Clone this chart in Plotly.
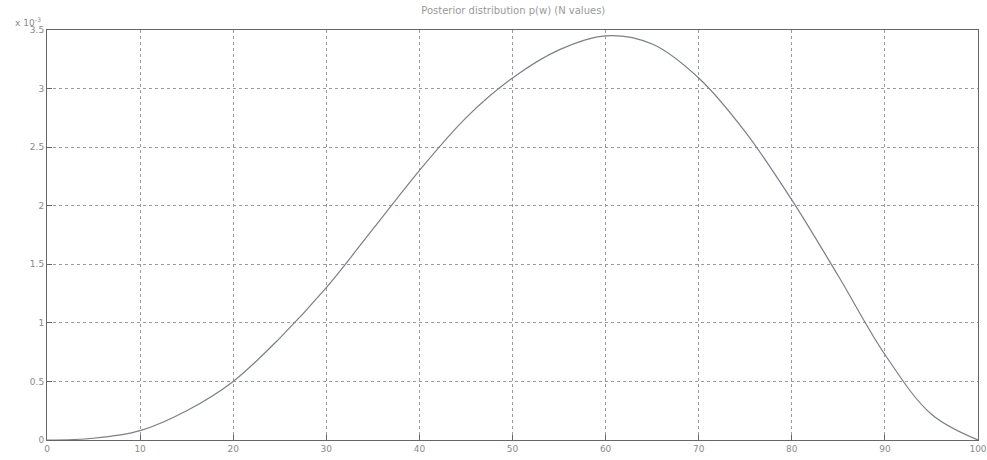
import plotly.graph_objects as go

# x values and pdf values (in units of 1e-3)
x_vals = [0, 5, 10, 15, 20, 25, 30, 35, 40, 45, 50, 55, 60, 65, 70, 75, 80, 85, 90, 95, 100]
y_vals = [0.0, 0.015, 0.08, 0.25, 0.50, 0.87, 1.30, 1.80, 2.30, 2.75, 3.09, 3.33, 3.45, 3.38, 3.09, 2.63, 2.05, 1.40, 0.73, 0.22, 0.0]

x_ticks = [0, 10, 20, 30, 40, 50, 60, 70, 80, 90, 100]
y_ticks = [0, 0.5, 1, 1.5, 2, 2.5, 3, 3.5]
y_tick_text = ["0", "0.5", "1", "1.5", "2", "2.5", "3", "3.5"]
title_text = "Posterior distribution p(w) (N values)"

fig = go.Figure()
fig.add_trace(go.Scatter(x=x_vals, y=y_vals, mode="lines",
                         line=dict(color="#7a7f8a", width=1.2, shape="spline", smoothing=1.0),
                         hoverinfo="skip"))

axis_common = dict(
    showgrid=True, gridcolor="#9a9a9a", griddash="dot", gridwidth=1,
    showline=True, linecolor="#666", linewidth=1, mirror=True,
    ticks="inside", ticklen=5, tickcolor="#666",
    tickfont=dict(family="DejaVu Sans", size=9, color="#8a8a8a"),
    zeroline=False, automargin=False,
)
fig.update_xaxes(range=[0, 100], tickvals=x_ticks, **axis_common)
fig.update_yaxes(range=[0, 3.5], tickvals=y_ticks, ticktext=y_tick_text, **axis_common)

fig.update_layout(
    width=987, height=460,
    margin=dict(l=47, r=9, t=30, b=20),
    paper_bgcolor="white", plot_bgcolor="white",
    showlegend=False,
    title=dict(text=title_text, x=0.52, xanchor="center", y=0.985, yanchor="top",
               font=dict(family="DejaVu Sans", size=10, color="#9a9a9a")),
    annotations=[dict(text="x 10<sup>-3</sup>", xref="paper", yref="paper", x=0, y=1.0,
                      xanchor="right", yanchor="bottom", showarrow=False, xshift=-4,
                      font=dict(family="DejaVu Sans", size=9, color="#8a8a8a"))],
)

fig.write_html("out.html",
               config={"displayModeBar": False},
               post_script="document.body.style.margin='0';document.body.style.overflow='hidden';")
